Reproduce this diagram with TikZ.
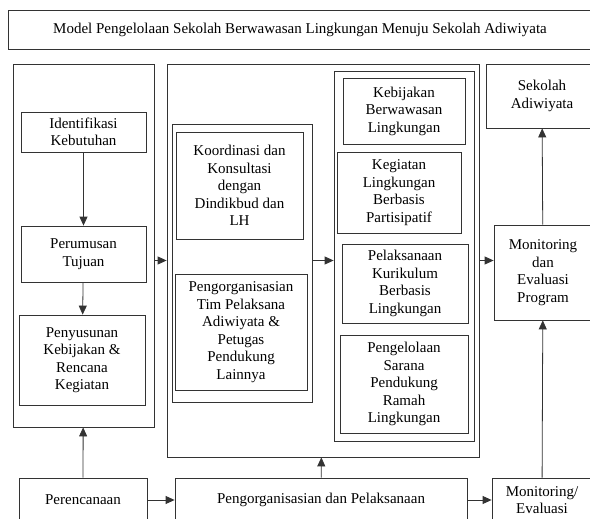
\documentclass[tikz,border=0pt]{standalone}
\usepackage{fontspec}
\setmainfont{Liberation Serif}
\usetikzlibrary{arrows.meta,positioning,calc}

\begin{document}
\begin{tikzpicture}[x=1pt,y=-1pt,
        box/.style={draw=black!80, line width=0.8pt, align=center, inner sep=2pt,
            font=\fontsize{15}{17.5}\selectfont},
        link/.style={draw=black!80, line width=0.8pt, -{Triangle[length=9pt,width=8pt]}}]
    \useasboundingbox (0,0) rectangle (590,519);
    \clip (0,0) rectangle (590,519);

    % judul
    \node[box, minimum width=584, minimum height=39] (judul) at (300,29.5)
        {Model Pengelolaan Sekolah Berwawasan Lingkungan Menuju Sekolah Adiwiyata};

    % perencanaan
    \node[box, minimum width=141, minimum height=363] (plan) at (83.5,245.5) {};
    \node[box, minimum width=125, minimum height=40] (ident) at (83.5,132) {Identifikasi\\Kebutuhan};
    \node[box, minimum width=125, minimum height=56] (rumus) at (83.5,254) {Perumusan\\Tujuan};
    \node[box, minimum width=126, minimum height=90] (susun) at (82,360)
        {Penyusunan\\Kebijakan \&\\Rencana\\Kegiatan};

    % pengorganisasian dan pelaksanaan
    \node[box, minimum width=312, minimum height=393] (org) at (323,260.5) {};
    \node[box, minimum width=140, minimum height=278] (orgL) at (242,263) {};
    \node[box, minimum width=127, minimum height=107] (koord) at (239.5,185.5)
        {Koordinasi dan\\Konsultasi\\dengan\\Dindikbud dan\\LH};
    \node[box, minimum width=132, minimum height=116] (tim) at (241,332)
        {Pengorganisasian\\Tim Pelaksana\\Adiwiyata \&\\Petugas\\Pendukung\\Lainnya};
    \node[box, minimum width=140, minimum height=370] (orgR) at (404,256) {};
    \node[box, minimum width=122, minimum height=66] (bijak) at (404,111)
        {Kebijakan\\Berwawasan\\Lingkungan};
    \node[box, minimum width=124, minimum height=81] (giat) at (399,192.5)
        {Kegiatan\\Lingkungan\\Berbasis\\Partisipatif};
    \node[box, minimum width=126, minimum height=79] (kurik) at (405,283.5)
        {Pelaksanaan\\Kurikulum\\Berbasis\\Lingkungan};
    \node[box, minimum width=128, minimum height=98] (sarana) at (404,384)
        {Pengelolaan\\Sarana\\Pendukung\\Ramah\\Lingkungan};

    % monitoring dan hasil
    \node[box, minimum width=112, minimum height=64] (adiw) at (542,96) {Sekolah\\Adiwiyata};
    \node[box, minimum width=98, minimum height=95] (monev) at (543,272.5)
        {Monitoring\\dan\\Evaluasi\\Program};

    % tahapan
    \node[box, minimum width=128, minimum height=44] (renc) at (83,500) {Perencanaan};
    \node[box, minimum width=292, minimum height=44] (pelak) at (321,500)
        {Pengorganisasian dan Pelaksanaan};
    \node[box, minimum width=100, minimum height=44] (eval) at (542,500) {Monitoring/\\Evaluasi};

    \draw[link] (ident) -- (rumus);
    \draw[link] (rumus) -- (susun);
    \draw[link] (plan.east |- org.west) -- (org.west);
    \draw[link] (orgL.east |- org.center) -- (orgR.west |- org.center);
    \draw[link] (org.east) -- (org.east -| monev.west);
    \draw[link] (monev) -- (adiw);
    \draw[link] (renc) -- (plan);
    \draw[link] (pelak) -- (org);
    \draw[link] (eval) -- (monev);
    \draw[link] (renc) -- (pelak);
    \draw[link] (pelak) -- (eval);
\end{tikzpicture}
\end{document}
